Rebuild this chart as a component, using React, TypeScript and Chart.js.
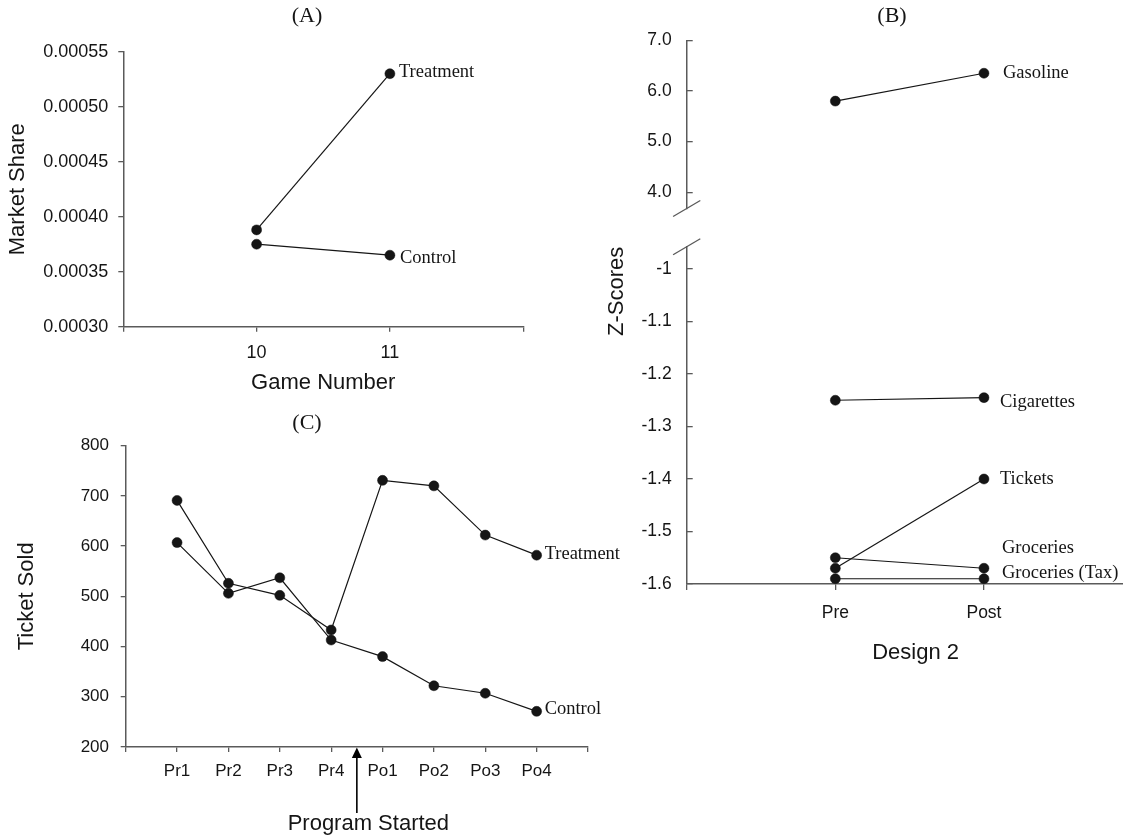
import React, { useEffect, useRef } from 'react';
import { Chart, registerables } from 'chart.js';

Chart.register(...registerables);

// ---------- Panel A data ----------
const gameNumbers = [10, 11];
const shareTreatment = [0.000388, 0.00053];
const shareControl = [0.000375, 0.000365];
const shareTickValues = [0.0003, 0.00035, 0.0004, 0.00045, 0.0005, 0.00055];
const shareTickLabels = ['0.00030', '0.00035', '0.00040', '0.00045', '0.00050', '0.00055'];
const gameTickValues = [9, 10, 11, 12];
const gameTickLabels = ['', '10', '11', ''];

// ---------- Panel B data ----------
const phasePositions = [1, 2];
const gasoline = [5.8, 6.35];
const cigarettes = [-1.25, -1.245];
const tickets = [-1.57, -1.4];
const groceries = [-1.55, -1.57];
const groceriesTax = [-1.59, -1.59];
const zUpperTickValues = [4, 5, 6, 7];
const zUpperTickLabels = ['4.0', '5.0', '6.0', '7.0'];
const zLowerTickValues = [-1.6, -1.5, -1.4, -1.3, -1.2, -1.1, -1];
const zLowerTickLabels = ['-1.6', '-1.5', '-1.4', '-1.3', '-1.2', '-1.1', '-1'];
const phaseTickValues = [0, 1, 2, 3];
const phaseTickLabels = ['', 'Pre', 'Post', ''];

// ---------- Panel C data ----------
const periods = ['Pr1', 'Pr2', 'Pr3', 'Pr4', 'Po1', 'Po2', 'Po3', 'Po4'];
const ticketsTreatment = [691, 526, 502, 433, 731, 720, 622, 582];
const ticketsControl = [607, 506, 537, 413, 380, 322, 307, 271];
const ticketTickValues = [200, 300, 400, 500, 600, 700, 800];
const ticketTickLabels = ['200', '300', '400', '500', '600', '700', '800'];
const periodTickValues = [0, 1, 2, 3, 4, 5, 6, 7, 8, 9];
const periodTickLabels = ['', ...periods, ''];
const programStart = 4.5;

// ---------- styles ----------
const SANS = "'Liberation Sans', Arial, Helvetica, sans-serif";
const SERIF = "'Liberation Serif', 'Times New Roman', Times, serif";
const AXIS_COLOR = '#5a5a5a';
const INK = '#151515';

type AxisOpts = {
  position: 'left' | 'bottom';
  min: number;
  max: number;
  values: number[];
  labels: string[];
  size: number;
  tickLength: number;
  padding: number;
  fontSize: number;
  title?: string;
  titlePadding?: any;
  titleAlign?: 'start' | 'center' | 'end';
  display?: boolean;
};

function makeAxis(o: AxisOpts) {
  return {
    type: 'linear',
    position: o.position,
    display: o.display === undefined ? true : o.display,
    min: o.min,
    max: o.max,
    afterBuildTicks: (s: any) => {
      s.ticks = o.values.map((v) => ({ value: v }));
    },
    afterFit: (s: any) => {
      if (o.position === 'left') s.width = o.size;
      else s.height = o.size;
    },
    grid: {
      display: true,
      drawOnChartArea: false,
      drawTicks: true,
      tickLength: o.tickLength,
      color: AXIS_COLOR,
      lineWidth: 1.3,
    },
    border: { display: true, color: AXIS_COLOR, width: 1.5 },
    ticks: {
      autoSkip: false,
      maxRotation: 0,
      minRotation: 0,
      padding: o.padding,
      color: INK,
      font: { family: SANS, size: o.fontSize },
      callback: (_v: any, i: number) => o.labels[i],
    },
    title: o.title
      ? {
          display: true,
          text: o.title,
          color: INK,
          font: { family: SANS, size: 22 },
          padding: o.titlePadding,
          align: o.titleAlign || 'center',
        }
      : { display: false },
  };
}

function lineSet(xs: number[], ys: number[]) {
  return {
    type: 'line',
    data: xs.map((x, i) => ({ x, y: ys[i] })),
    borderColor: INK,
    borderWidth: 1.2,
    pointRadius: 5,
    pointBackgroundColor: INK,
    pointBorderColor: INK,
    pointBorderWidth: 0.5,
    tension: 0,
    clip: false,
  };
}

const seriesLabels = {
  id: 'seriesLabels',
  afterDatasetsDraw(chart: any, _a: any, opts: any) {
    const { ctx } = chart;
    (opts.items || []).forEach((it: any) => {
      const pts = chart.getDatasetMeta(it.dataset).data;
      const p = pts[pts.length - 1];
      ctx.save();
      ctx.font = `18.5px ${SERIF}`;
      ctx.fillStyle = INK;
      ctx.textBaseline = 'middle';
      ctx.textAlign = 'left';
      ctx.fillText(it.text, p.x + it.dx, p.y + it.dy);
      ctx.restore();
    });
  },
};

const axisBreak = {
  id: 'axisBreak',
  afterDraw(chart: any, _a: any, opts: any) {
    if (!opts || !opts.edge) return;
    const { ctx, chartArea } = chart;
    const x = chartArea.left;
    const y = opts.edge === 'bottom' ? chartArea.bottom : chartArea.top;
    ctx.save();
    ctx.strokeStyle = AXIS_COLOR;
    ctx.lineWidth = 1.3;
    ctx.beginPath();
    ctx.moveTo(x - 13.6, y + 8);
    ctx.lineTo(x + 13.6, y - 8);
    ctx.stroke();
    ctx.restore();
  },
};

const startArrow = {
  id: 'startArrow',
  afterDraw(chart: any, _a: any, opts: any) {
    if (!opts || opts.value === undefined) return;
    const { ctx, chartArea } = chart;
    const x = chart.scales.x.getPixelForValue(opts.value);
    const y0 = chartArea.bottom;
    ctx.save();
    ctx.strokeStyle = '#000';
    ctx.fillStyle = '#000';
    ctx.lineWidth = 1.6;
    ctx.beginPath();
    ctx.moveTo(x, y0 + 9);
    ctx.lineTo(x, y0 + 66);
    ctx.stroke();
    ctx.beginPath();
    ctx.moveTo(x, y0 + 0.5);
    ctx.lineTo(x - 5, y0 + 11);
    ctx.lineTo(x + 5, y0 + 11);
    ctx.closePath();
    ctx.fill();
    ctx.font = `22px ${SANS}`;
    ctx.fillStyle = INK;
    ctx.textAlign = 'center';
    ctx.textBaseline = 'middle';
    ctx.fillText(opts.text, x + 11.5, y0 + 77);
    ctx.restore();
  },
};

const basePlugins = {
  legend: { display: false },
  tooltip: { enabled: false },
};

function buildA() {
  return {
    type: 'line',
    data: {
      datasets: [lineSet(gameNumbers, shareTreatment), lineSet(gameNumbers, shareControl)],
    },
    plugins: [seriesLabels],
    options: {
      animation: false,
      responsive: false,
      events: [],
      layout: { padding: { top: 51.7, right: 36.8, left: 0, bottom: 0 } },
      scales: {
        x: makeAxis({
          position: 'bottom', min: 9, max: 12, values: gameTickValues, labels: gameTickLabels,
          size: 93.3, tickLength: 5, padding: 11, fontSize: 18, title: 'Game Number',
          titlePadding: { top: 0, bottom: 23.8 },
        }),
        y: makeAxis({
          position: 'left', min: 0.0003, max: 0.00055, values: shareTickValues, labels: shareTickLabels,
          size: 123.3, tickLength: 5, padding: 10, fontSize: 18, title: 'Market Share',
          titlePadding: { top: 5, bottom: 0 },
        }),
      },
      plugins: {
        ...basePlugins,
        seriesLabels: {
          items: [
            { dataset: 0, text: 'Treatment', dx: 9, dy: -2 },
            { dataset: 1, text: 'Control', dx: 10, dy: 3 },
          ],
        },
      },
    },
  };
}

const B_LEFT = 126.7;
const B_MAX = 3.08;
const B_RIGHT_PAD = 5;

function buildBTop() {
  return {
    type: 'line',
    data: { datasets: [lineSet(phasePositions, gasoline)] },
    plugins: [seriesLabels, axisBreak],
    options: {
      animation: false,
      responsive: false,
      events: [],
      layout: { padding: { top: 40.3, right: B_RIGHT_PAD, left: 0, bottom: 12 } },
      scales: {
        x: makeAxis({
          position: 'bottom', min: 0, max: B_MAX, values: phaseTickValues, labels: phaseTickLabels,
          size: 0, tickLength: 6, padding: 12.5, fontSize: 17.5, display: false,
        }),
        y: makeAxis({
          position: 'left', min: 3.681, max: 7, values: zUpperTickValues, labels: zUpperTickLabels,
          size: B_LEFT, tickLength: -6, padding: 21, fontSize: 17.5,
        }),
      },
      plugins: {
        ...basePlugins,
        seriesLabels: { items: [{ dataset: 0, text: 'Gasoline', dx: 19, dy: 0 }] },
        axisBreak: { edge: 'bottom' },
      },
    },
  };
}

function buildBBottom() {
  return {
    type: 'line',
    data: {
      datasets: [
        lineSet(phasePositions, cigarettes),
        lineSet(phasePositions, tickets),
        lineSet(phasePositions, groceries),
        lineSet(phasePositions, groceriesTax),
      ],
    },
    plugins: [seriesLabels, axisBreak],
    options: {
      animation: false,
      responsive: false,
      events: [],
      layout: { padding: { top: 46.7, right: B_RIGHT_PAD, left: 0, bottom: 0 } },
      scales: {
        x: makeAxis({
          position: 'bottom', min: 0, max: B_MAX, values: phaseTickValues, labels: phaseTickLabels,
          size: 96, tickLength: 6, padding: 12.5, fontSize: 17.5, title: 'Design 2',
          titlePadding: { top: 0, bottom: 13.5 },
        }),
        y: makeAxis({
          position: 'left', min: -1.6, max: -0.9575, values: zLowerTickValues, labels: zLowerTickLabels,
          size: B_LEFT, tickLength: -6, padding: 21, fontSize: 17.5, title: 'Z-Scores',
          titlePadding: { top: 43.8, bottom: 0 }, titleAlign: 'end',
        }),
      },
      plugins: {
        ...basePlugins,
        seriesLabels: {
          items: [
            { dataset: 0, text: 'Cigarettes', dx: 16, dy: 5 },
            { dataset: 1, text: 'Tickets', dx: 16, dy: 0 },
            { dataset: 2, text: 'Groceries', dx: 18, dy: -20 },
            { dataset: 3, text: 'Groceries (Tax)', dx: 18, dy: -5.5 },
          ],
        },
        axisBreak: { edge: 'top' },
      },
    },
  };
}

function buildC() {
  const xs = periods.map((_p, i) => i + 1);
  return {
    type: 'line',
    data: { datasets: [lineSet(xs, ticketsTreatment), lineSet(xs, ticketsControl)] },
    plugins: [seriesLabels, startArrow],
    options: {
      animation: false,
      responsive: false,
      events: [],
      layout: { padding: { top: 45.7, right: 52, left: 0, bottom: 0 } },
      scales: {
        x: makeAxis({
          position: 'bottom', min: 0, max: 9, values: periodTickValues, labels: periodTickLabels,
          size: 88, tickLength: 5, padding: 9.5, fontSize: 17,
        }),
        y: makeAxis({
          position: 'left', min: 200, max: 800, values: ticketTickValues, labels: ticketTickLabels,
          size: 125.7, tickLength: 5, padding: 11.7, fontSize: 17, title: 'Ticket Sold',
          titlePadding: { top: 13.6, bottom: 0 },
        }),
      },
      plugins: {
        ...basePlugins,
        seriesLabels: {
          items: [
            { dataset: 0, text: 'Treatment', dx: 8, dy: -1 },
            { dataset: 1, text: 'Control', dx: 8, dy: -2 },
          ],
        },
        startArrow: { value: programStart, text: 'Program Started' },
      },
    },
  };
}

type Box = { x: number; y: number; w: number; h: number };

function ChartCanvas({ box, build }: { box: Box; build: () => any }) {
  const ref = useRef<HTMLCanvasElement>(null);
  useEffect(() => {
    const chart = new Chart(ref.current as HTMLCanvasElement, build());
    return () => chart.destroy();
  }, []);
  return (
    <canvas
      ref={ref}
      width={box.w}
      height={box.h}
      style={{ position: 'absolute', left: box.x, top: box.y, width: box.w, height: box.h }}
    />
  );
}

function PanelTitle({ x, y, text }: { x: number; y: number; text: string }) {
  return (
    <div
      style={{
        position: 'absolute',
        left: x,
        top: y,
        transform: 'translate(-50%, -50%)',
        font: `22px ${SERIF}`,
        lineHeight: 1,
        color: INK,
        whiteSpace: 'nowrap',
      }}
    >
      {text}
    </div>
  );
}

export default function App() {
  return (
    <div
      style={{
        position: 'absolute',
        left: 0,
        top: 0,
        width: 1123,
        height: 835,
        overflow: 'hidden',
        background: '#fff',
      }}
    >
      <ChartCanvas box={{ x: 0, y: 0, w: 560, h: 420 }} build={buildA} />
      <ChartCanvas box={{ x: 560, y: 0, w: 590, h: 240 }} build={buildBTop} />
      <ChartCanvas box={{ x: 560, y: 200, w: 590, h: 480 }} build={buildBBottom} />
      <ChartCanvas box={{ x: 0, y: 400, w: 640, h: 435 }} build={buildC} />
      <PanelTitle x={307} y={15} text="(A)" />
      <PanelTitle x={892} y={15} text="(B)" />
      <PanelTitle x={307} y={421.7} text="(C)" />
    </div>
  );
}
